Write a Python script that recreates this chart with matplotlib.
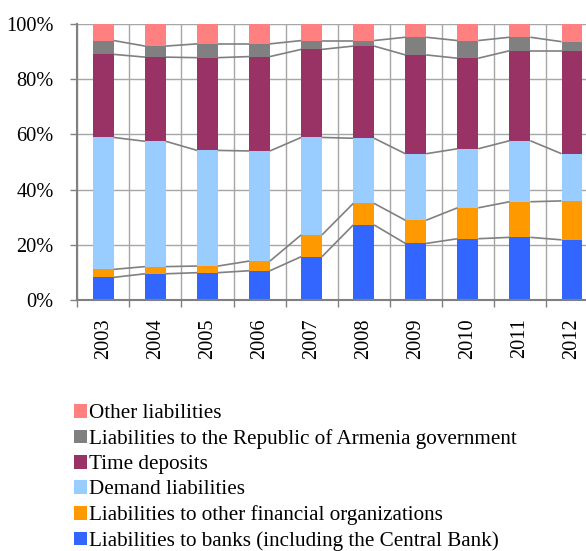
import matplotlib
matplotlib.use("Agg")
import matplotlib.pyplot as plt
from matplotlib.patches import Patch
import numpy as np

plt.rcParams['font.family'] = ['Liberation Serif', 'DejaVu Serif']

years = ["2003", "2004", "2005", "2006", "2007", "2008", "2009", "2010", "2011", "2012"]
banks = [8.2, 9.5, 9.9, 10.6, 15.7, 27.2, 20.5, 22.2, 22.7, 21.8]
other_fin = [2.9, 2.6, 2.4, 3.5, 7.9, 7.8, 8.4, 11.2, 12.9, 14.1]
demand = [47.8, 45.4, 41.9, 39.9, 35.3, 23.6, 24.1, 21.4, 22.1, 17.1]
time_dep = [30.1, 30.5, 33.6, 34.2, 31.9, 33.4, 35.8, 32.8, 32.6, 37.3]
government = [5.0, 4.0, 5.0, 4.6, 3.2, 2.0, 6.4, 6.4, 4.9, 3.3]
other_liab = [6.0, 8.0, 7.2, 7.2, 6.0, 6.0, 4.8, 6.0, 4.8, 6.4]

series = [
    ("Liabilities to banks (including the Central Bank)", banks, "#3366FF"),
    ("Liabilities to other financial organizations", other_fin, "#FF9900"),
    ("Demand liabilities", demand, "#99CCFF"),
    ("Time deposits", time_dep, "#993366"),
    ("Liabilities to the Republic of Armenia government", government, "#808080"),
    ("Other liabilities", other_liab, "#FF8080"),
]

fig = plt.figure(figsize=(5.86, 5.51), dpi=100)
ax = fig.add_axes([77.3 / 586, (551 - 300) / 551, (598 - 77.3) / 586, 276 / 551])

x = np.arange(len(years))
w = 0.40
data = np.array([s[1] for s in series], dtype=float)
totals = data.sum(axis=0)
pct = data / totals * 100
bottom = np.zeros(len(years))
tops = []
handles = []
for (name, vals, col), p in zip(series, pct):
    ax.bar(x, p, w, bottom=bottom, color=col, zorder=3, linewidth=0)
    bottom = bottom + p
    tops.append(bottom.copy())
    handles.append(Patch(facecolor=col, edgecolor='none', label=name))

# series lines
for t in tops[:-1]:
    for i in range(len(years) - 1):
        ax.plot([x[i] + w / 2, x[i + 1] - w / 2], [t[i], t[i + 1]],
                color="#808080", lw=1.2, zorder=4, solid_capstyle='butt')

ax.set_xlim(-0.5, len(years) - 0.5)
ax.set_ylim(0, 100)
ax.set_yticks(np.arange(0, 101, 20))
ax.set_yticklabels([f"{v}%" for v in range(0, 101, 20)], fontsize=14.7)
ax.set_xticks(x)
ax.set_xticklabels(years, rotation=90, fontsize=14.7)
ax.set_xticks(np.arange(-0.5, len(years), 1.0), minor=True)
ax.tick_params(axis='x', which='major', length=0, pad=13)
ax.tick_params(axis='x', which='minor', length=5, width=1, color="#808080", direction='out')
ax.tick_params(axis='y', which='major', length=5, width=1, color="#808080", direction='out', pad=12)

ax.grid(axis='y', which='major', color="#A6A6A6", lw=1, zorder=0)
ax.grid(axis='x', which='minor', color="#A6A6A6", lw=1, zorder=0)
for s in ['top', 'right']:
    ax.spines[s].set_visible(False)
for s in ['left', 'bottom']:
    ax.spines[s].set_color("#808080")
    ax.spines[s].set_linewidth(1.5)
    ax.spines[s].set_zorder(5)

leg = fig.legend(handles=handles[::-1], loc='upper left',
                 bbox_to_anchor=(74 / 586, 1 - 404 / 551), frameon=False,
                 fontsize=15.2, handlelength=0.62, handleheight=0.62,
                 handletextpad=0.1, labelspacing=0.28, borderaxespad=0, borderpad=0)

fig.savefig("out.png", dpi=100)
